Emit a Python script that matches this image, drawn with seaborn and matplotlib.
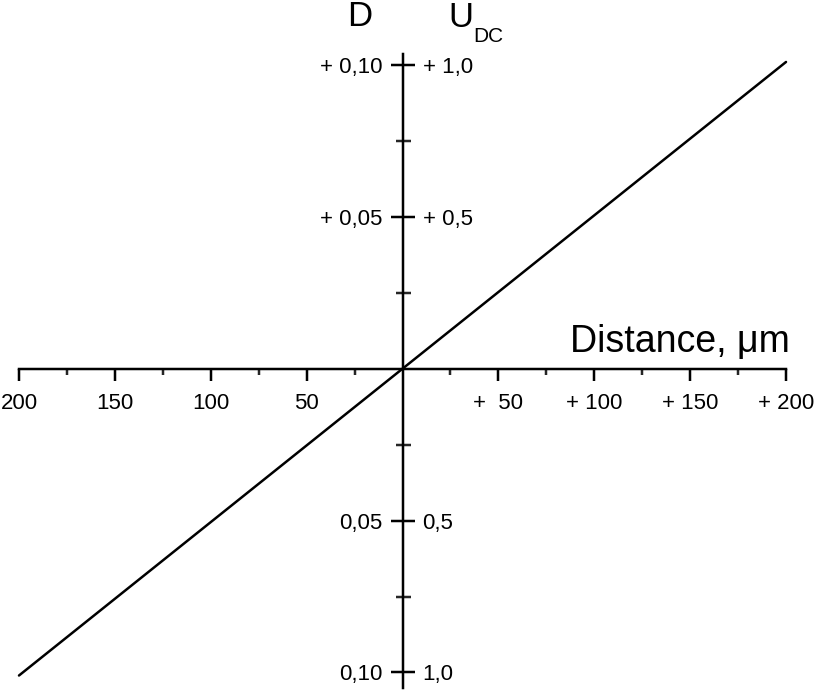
import numpy as np
import matplotlib
matplotlib.use("Agg")
import matplotlib.pyplot as plt
import seaborn as sns

sns.set_style("white")
plt.rcParams["font.family"] = ["Liberation Sans", "DejaVu Sans"]

# data
distance = [-200, 200]          # um
d_values = [-0.101, 0.101]      # D

x_major = [-200, -150, -100, -50, 50, 100, 150, 200]
x_minor = [-175, -125, -75, -25, 25, 75, 125, 175]
x_labels = ["200", "150", "100", "50", "+  50", "+ 100", "+ 150", "+ 200"]

d_major = [-0.10, -0.05, 0.05, 0.10]
d_minor = [-0.075, -0.025, 0.025, 0.075]
d_labels = ["0,10", "0,05", "+ 0,05", "+ 0,10"]

u_major = [-1.0, -0.5, 0.5, 1.0]
u_labels = ["1,0", "0,5", "+ 0,5", "+ 1,0"]

PX = 72 / 100  # points per pixel at dpi 100
LW = 2.5 * PX

fig = plt.figure(figsize=(8.19, 6.91), dpi=100)
ax = fig.add_axes([0, 0, 1, 1])

sns.lineplot(x=distance, y=d_values, color="black", linewidth=LW, ax=ax)

ax.set_xlim(-209.9, 217.2)
ax.set_ylim(-0.1061, 0.1214)

for side in ["top", "right"]:
    ax.spines[side].set_visible(False)
ax.spines["left"].set_position(("data", 0))
ax.spines["bottom"].set_position(("data", 0))
ax.spines["left"].set_bounds(-0.1050, 0.1035)
ax.spines["bottom"].set_bounds(-200, 200)
for side in ["left", "bottom"]:
    ax.spines[side].set_linewidth(LW)
    ax.spines[side].set_color("black")

ax.tick_params(bottom=True, left=True, top=False, right=False, which="both")

ax.set_xticks(x_major, x_labels)
ax.set_xticks(x_minor, minor=True)
ax.tick_params(axis="x", which="major", direction="out", length=12 * PX,
               width=LW, pad=12 * PX, labelsize=16, colors="black")
ax.tick_params(axis="x", which="minor", direction="out", length=6 * PX,
               width=LW)

ax.set_yticks(d_major, d_labels)
ax.set_yticks(d_minor, minor=True)
ax.tick_params(axis="y", which="major", direction="inout", length=24 * PX,
               width=LW, pad=8 * PX, labelsize=16, colors="black")
ax.tick_params(axis="y", which="minor", direction="inout", length=15 * PX,
               width=LW)

# second scale on the same vertical line: U_DC = 10 * D
sec = ax.secondary_yaxis(0, functions=(lambda d: d * 10, lambda u: u / 10),
                         transform=ax.transData)
sec.spines["left"].set_visible(False)
sec.yaxis.set_ticks_position("right")
sec.set_yticks(u_major, u_labels)
sec.yaxis.set_minor_locator(matplotlib.ticker.NullLocator())
sec.tick_params(axis="y", which="major", length=0, pad=20 * PX,
                labelsize=16, colors="black")

ax.text(202, 0.0056, "Distance, \u03bcm", fontsize=27, ha="right",
        va="baseline", color="black")
ax.text(-15.9, 0.1127, "D", fontsize=25, ha="right", va="baseline",
        color="black")
ax.text(23.7, 0.1124, "U", fontsize=25, ha="left", va="baseline",
        color="black")
ax.text(36.8, 0.1077, "DC", fontsize=15, ha="left", va="baseline",
        color="black")

ax.grid(False)
fig.savefig("out.png", dpi=100)
